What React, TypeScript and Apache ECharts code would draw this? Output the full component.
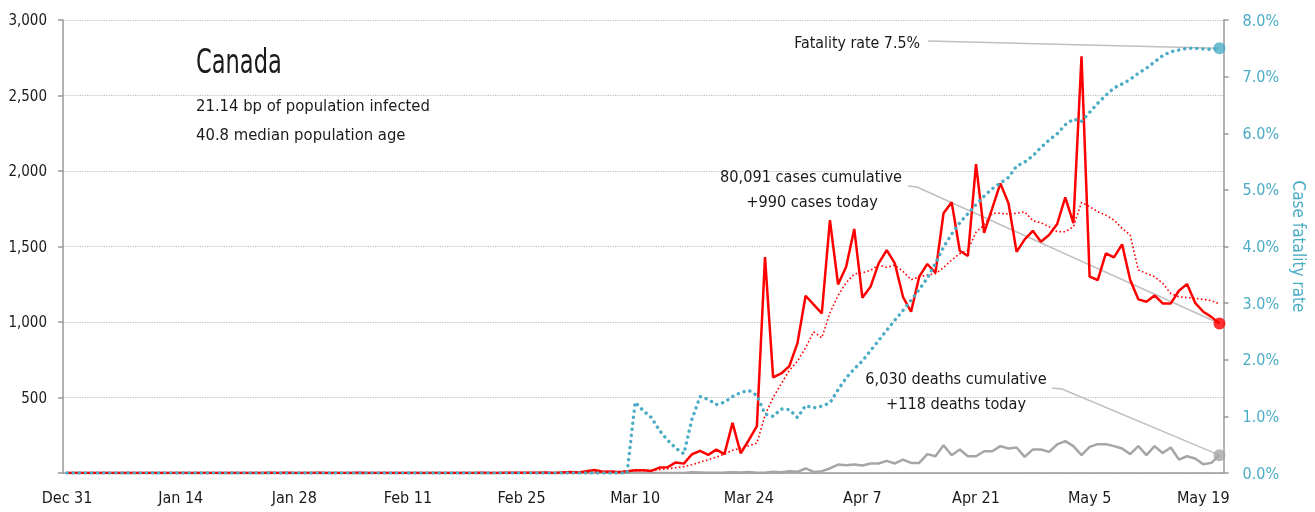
import React, { useEffect, useRef } from 'react';
import * as echarts from 'echarts';

const FONT = "'DejaVu Sans Condensed', 'DejaVu Sans', sans-serif";
const AXIS_FONT = "'DejaVu Sans Condensed', 'DejaVu Sans', sans-serif";
const MONTHS = ['Jan', 'Feb', 'Mar', 'Apr', 'May', 'Jun', 'Jul', 'Aug', 'Sep', 'Oct', 'Nov', 'Dec'];

// Daily new cases, Dec 31 2019 .. May 21 2020
const dailyCases = [
  0, 0, 0, 0, 0, 0, 0, 0, 0, 0,
  0, 0, 0, 0, 0, 0, 0, 0, 0, 0,
  0, 0, 0, 0, 0, 1, 0, 1, 0, 0,
  0, 1, 0, 0, 0, 0, 1, 0, 0, 0,
  0, 0, 0, 0, 0, 0, 0, 0, 0, 0,
  0, 1, 0, 0, 1, 2, 1, 2, 2, 3,
  0, 4, 6, 3, 12, 20, 8, 10, 5, 12,
  18, 18, 14, 36, 38, 70, 62, 124, 146, 120,
  155, 125, 332, 131, 217, 310, 1430, 633, 659, 708,
  860, 1174, 1115, 1057, 1675, 1249, 1366, 1616, 1160, 1233,
  1388, 1476, 1388, 1167, 1068, 1300, 1384, 1326, 1720, 1793,
  1472, 1437, 2046, 1591, 1753, 1918, 1786, 1465, 1547, 1604,
  1532, 1576, 1649, 1826, 1654, 2760, 1300, 1278, 1455, 1428,
  1514, 1278, 1150, 1134, 1176, 1123, 1123, 1207, 1251, 1127,
  1068, 1034, 990,
];

// 7-day average of daily cases
const casesAvg7 = [
  0, 0, 0, 0, 0, 0, 0, 0, 0, 0,
  0, 0, 0, 0, 0, 0, 0, 0, 0, 0,
  0, 0, 0, 0, 0, 0, 0, 0, 0, 0,
  0, 0, 0, 0, 0, 0, 0, 0, 0, 0,
  0, 0, 0, 0, 0, 0, 0, 0, 0, 0,
  0, 0.1, 0.1, 0.1, 0.3, 0.6, 0.7, 1, 1.3, 1.6,
  1.6, 2.1, 3, 3.3, 4.6, 7.4, 7.7, 9, 9.4, 10,
  15, 17, 18, 22, 28, 35, 42, 55, 72, 88,
  105, 125, 150, 165, 180, 197, 383, 500, 590, 680,
  740, 830, 935, 895, 1060, 1175, 1260, 1318, 1326, 1342,
  1377, 1362, 1377, 1335, 1280, 1300, 1311, 1320, 1360, 1410,
  1452, 1476, 1595, 1642, 1720, 1720, 1715, 1720, 1730, 1671,
  1657, 1631, 1598, 1598, 1631, 1792, 1764, 1730, 1708, 1675,
  1620, 1576, 1344, 1322, 1300, 1256, 1189, 1167, 1162, 1156,
  1150, 1141, 1119,
];

// Daily new deaths
const dailyDeaths = [
  0, 0, 0, 0, 0, 0, 0, 0, 0, 0,
  0, 0, 0, 0, 0, 0, 0, 0, 0, 0,
  0, 0, 0, 0, 0, 0, 0, 0, 0, 0,
  0, 0, 0, 0, 0, 0, 0, 0, 0, 0,
  0, 0, 0, 0, 0, 0, 0, 0, 0, 0,
  0, 0, 0, 0, 0, 0, 0, 0, 0, 0,
  0, 0, 0, 0, 0, 0, 0, 0, 0, 0,
  1, 0, 0, 0, 0, 0, 0, 5, 4, 1,
  2, 3, 5, 4, 6, 2, 2, 8, 5, 11,
  8, 30, 7, 12, 30, 56, 52, 56, 50, 63,
  63, 80, 63, 89, 67, 67, 125, 111, 184, 118,
  156, 111, 111, 144, 144, 178, 162, 169, 107, 156,
  156, 140, 189, 211, 178, 118, 173, 191, 191, 178,
  162, 125, 178, 118, 178, 133, 169, 89, 111, 96,
  58, 67, 118,
];

// Case fatality rate, percent
const fatalityRate = [
  0, 0, 0, 0, 0, 0, 0, 0, 0, 0,
  0, 0, 0, 0, 0, 0, 0, 0, 0, 0,
  0, 0, 0, 0, 0, 0, 0, 0, 0, 0,
  0, 0, 0, 0, 0, 0, 0, 0, 0, 0,
  0, 0, 0, 0, 0, 0, 0, 0, 0, 0,
  0, 0, 0, 0, 0, 0, 0, 0, 0, 0,
  0, 0, 0, 0, 0, 0, 0, 0, 0, 0,
  1.25, 1.10, 0.98, 0.75, 0.58, 0.44, 0.34, 0.95, 1.35, 1.30,
  1.21, 1.25, 1.35, 1.42, 1.46, 1.37, 1.04, 1.00, 1.13, 1.12,
  0.98, 1.19, 1.15, 1.18, 1.24, 1.47, 1.68, 1.84, 1.98, 2.16,
  2.34, 2.52, 2.70, 2.87, 3.05, 3.24, 3.44, 3.70, 3.99, 4.22,
  4.42, 4.58, 4.74, 4.89, 5.02, 5.12, 5.22, 5.42, 5.49, 5.60,
  5.75, 5.88, 5.99, 6.15, 6.25, 6.21, 6.37, 6.53, 6.67, 6.80,
  6.87, 6.95, 7.06, 7.15, 7.26, 7.37, 7.44, 7.47, 7.50, 7.50,
  7.49, 7.48, 7.50,
];

const categories = dailyCases.map((_, i) => {
  const dt = new Date(Date.UTC(2019, 11, 31 + i));
  return `${MONTHS[dt.getUTCMonth()]} ${dt.getUTCDate()}`;
});

const TITLE = 'Canada';
const SUBTITLE_1 = '21.14 bp of population infected';
const SUBTITLE_2 = '40.8 median population age';
const FATALITY_NOTE = 'Fatality rate 7.5%';
const CASES_NOTE = ['80,091 cases cumulative', '+990 cases today'];
const DEATHS_NOTE = ['6,030 deaths cumulative', '+118 deaths today'];

const RED = '#FF0000';
const TEAL = '#4BACC6';
const GRAY = '#A6A6A6';
const AXIS = '#999999';
const TEXT = '#1a1a1a';

export default function App() {
  const ref = useRef<HTMLDivElement>(null);
  useEffect(() => {
    const chart = echarts.init(ref.current!, null, { renderer: 'svg' });
    const last = dailyCases.length - 1;
    chart.setOption({
      animation: false,
      textStyle: { fontFamily: FONT },
      grid: { left: 63, right: 85, top: 20, bottom: 39, containLabel: false },
      xAxis: {
        type: 'category',
        data: categories,
        boundaryGap: true,
        axisLine: { lineStyle: { color: AXIS, width: 1.5 } },
        axisTick: { interval: 13, length: 6, lineStyle: { color: AXIS, width: 1.5 } },
        axisLabel: { interval: 13, color: TEXT, fontSize: 16, fontFamily: AXIS_FONT, margin: 16 },
        splitLine: { show: false },
      },
      yAxis: [
        {
          type: 'value',
          min: 0,
          max: 3000,
          interval: 500,
          position: 'left',
          axisLine: { show: true, lineStyle: { color: AXIS, width: 1.5 } },
          axisTick: { show: true, length: 5, lineStyle: { color: AXIS, width: 1.5 } },
          axisLabel: {
            color: TEXT,
            fontSize: 15,
            fontFamily: AXIS_FONT,
            margin: 16,
            formatter: (v: number) => (v === 0 ? '' : v.toLocaleString('en-US')),
          },
          splitLine: { show: true, lineStyle: { color: '#bdbdbd', type: 'dotted', width: 1.2 } },
        },
        {
          type: 'value',
          min: 0,
          max: 8,
          interval: 1,
          position: 'right',
          axisLine: { show: true, lineStyle: { color: AXIS, width: 1.5 } },
          axisTick: { show: true, length: 5, lineStyle: { color: AXIS, width: 1.5 } },
          axisLabel: {
            color: TEAL,
            fontSize: 16,
            fontFamily: AXIS_FONT,
            margin: 19,
            formatter: (v: number) => `${v.toFixed(1)}%`,
          },
          splitLine: { show: false },
          name: 'Case fatality rate',
          nameLocation: 'middle',
          nameRotate: -90,
          nameGap: 65,
          nameTextStyle: { color: TEAL, fontSize: 17, fontFamily: AXIS_FONT },
        },
      ],
      series: [
        {
          name: 'Deaths',
          type: 'line',
          data: dailyDeaths,
          symbol: 'none',
          lineStyle: { color: GRAY, width: 2.5 },
          z: 2,
        },
        {
          name: 'Cases 7-day average',
          type: 'line',
          data: casesAvg7,
          symbol: 'none',
          lineStyle: { color: RED, width: 1.6, type: [1.6, 2.4] },
          z: 3,
        },
        {
          name: 'Cases',
          type: 'line',
          data: dailyCases,
          symbol: 'none',
          lineStyle: { color: RED, width: 2.5 },
          z: 4,
        },
        {
          name: 'Fatality rate',
          type: 'line',
          yAxisIndex: 1,
          data: fatalityRate,
          symbol: 'none',
          lineStyle: { color: TEAL, width: 3.4, type: [0.1, 6], cap: 'round' },
          z: 5,
        },
        {
          type: 'scatter',
          data: [[last, dailyDeaths[last]]],
          symbolSize: 12,
          itemStyle: { color: GRAY },
          z: 6,
        },
        {
          type: 'scatter',
          data: [[last, dailyCases[last]]],
          symbolSize: 12,
          itemStyle: { color: RED },
          z: 6,
        },
        {
          type: 'scatter',
          yAxisIndex: 1,
          data: [[last, fatalityRate[last]]],
          symbolSize: 12,
          itemStyle: { color: TEAL },
          z: 6,
        },
      ],
    });

    const pCase = chart.convertToPixel({ xAxisIndex: 0, yAxisIndex: 0 }, [last, dailyCases[last]]) as number[];
    const pDeath = chart.convertToPixel({ xAxisIndex: 0, yAxisIndex: 0 }, [last, dailyDeaths[last]]) as number[];
    const pRate = chart.convertToPixel({ xAxisIndex: 0, yAxisIndex: 1 }, [last, fatalityRate[last]]) as number[];

    const leader = { stroke: '#bfbfbf', lineWidth: 1.5, fill: null };
    const txt = (text: string, x: number, y: number, size: number, align: string, scaleX = 1) => ({
      type: 'text',
      z: 10,
      x,
      y,
      scaleX,
      style: { text, x: 0, y: 0, fill: TEXT, fontSize: size, fontFamily: FONT, align, verticalAlign: 'middle' },
    });

    chart.setOption({
      graphic: [
        { type: 'polyline', z: 1, shape: { points: [[928, 41], pRate] }, style: leader },
        { type: 'polyline', z: 1, shape: { points: [[908, 186], [917, 187], pCase] }, style: leader },
        { type: 'polyline', z: 1, shape: { points: [[1052, 388], [1062, 389], pDeath] }, style: leader },
        txt(TITLE, 196, 62, 33, 'left', 0.76),
        txt(SUBTITLE_1, 196, 105, 16.5, 'left', 1.0),
        txt(SUBTITLE_2, 196, 134, 16.5, 'left', 1.0),
        txt(FATALITY_NOTE, 920, 42, 16.5, 'right', 0.96),
        txt(CASES_NOTE[0], 811, 176, 16.5, 'center', 0.98),
        txt(CASES_NOTE[1], 812, 201, 16.5, 'center', 0.98),
        txt(DEATHS_NOTE[0], 956, 378, 16.5, 'center', 0.98),
        txt(DEATHS_NOTE[1], 956, 403, 16.5, 'center', 0.98),
      ],
    });

    return () => chart.dispose();
  }, []);
  return <div ref={ref} style={{ position: 'fixed', left: 0, top: 0, width: 1315, height: 512 }} />;
}
